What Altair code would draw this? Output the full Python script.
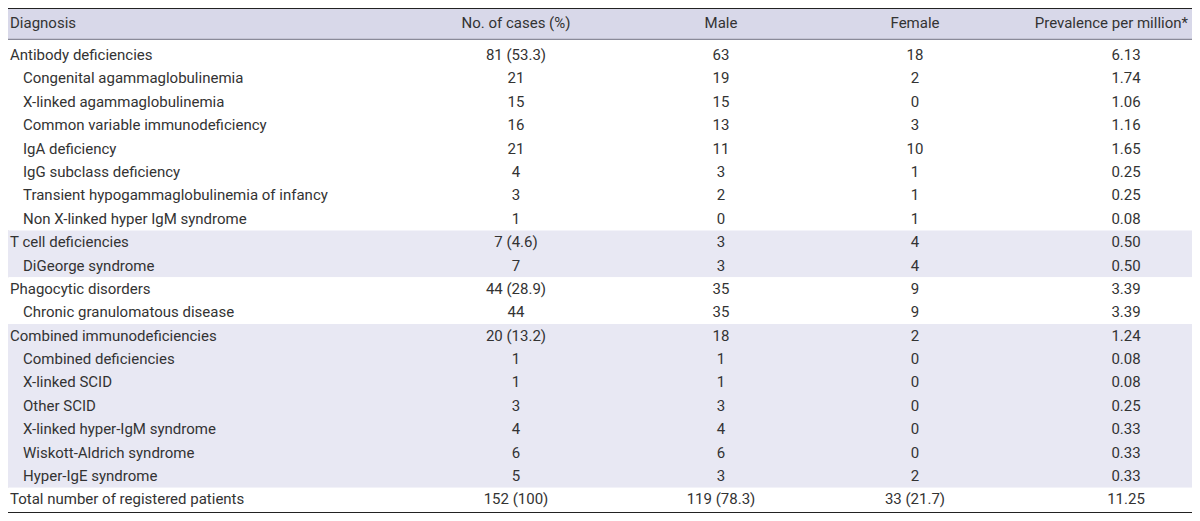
import altair as alt
import pandas as pd

# ---- data ----
diagnosis = [
    "Antibody deficiencies", "Congenital agammaglobulinemia", "X-linked agammaglobulinemia",
    "Common variable immunodeficiency", "IgA deficiency", "IgG subclass deficiency",
    "Transient hypogammaglobulinemia of infancy", "Non X-linked hyper IgM syndrome",
    "T cell deficiencies", "DiGeorge syndrome",
    "Phagocytic disorders", "Chronic granulomatous disease",
    "Combined immunodeficiencies", "Combined deficiencies", "X-linked SCID", "Other SCID",
    "X-linked hyper-IgM syndrome", "Wiskott-Aldrich syndrome", "Hyper-IgE syndrome",
    "Total number of registered patients",
]
level = [0, 1, 1, 1, 1, 1, 1, 1, 0, 1, 0, 1, 0, 1, 1, 1, 1, 1, 1, 0]
cases = ["81 (53.3)", "21", "15", "16", "21", "4", "3", "1", "7 (4.6)", "7", "44 (28.9)", "44",
         "20 (13.2)", "1", "1", "3", "4", "6", "5", "152 (100)"]
male = ["63", "19", "15", "13", "11", "3", "2", "0", "3", "3", "35", "35", "18", "1", "1", "3",
        "4", "6", "3", "119 (78.3)"]
female = ["18", "2", "0", "3", "10", "1", "1", "1", "4", "4", "9", "9", "2", "0", "0", "0", "0",
          "0", "2", "33 (21.7)"]
prevalence = ["6.13", "1.74", "1.06", "1.16", "1.65", "0.25", "0.25", "0.08", "0.50", "0.50",
              "3.39", "3.39", "1.24", "0.08", "0.08", "0.25", "0.33", "0.33", "0.33", "11.25"]
headers = ["Diagnosis", "No. of cases (%)", "Male", "Female", "Prevalence per million*"]
# section groups: (first row, last row, shaded)
sections = [(0, 7, False), (8, 9, True), (10, 11, False), (12, 18, True), (19, 19, False)]

# ---- layout ----
W, H = 1184, 505
TOP, HEAD_BOT, BOTTOM = -2.01, -0.67, 19.58
HEAD_ROW = -1.38
FONT = "Roboto"
FS = 15
TXT = "#333333"
HEAD_BG = "#d8d8e9"
BAND_BG = "#e8e8f3"
col_x = {"cases": 508, "male": 713, "female": 907, "prev": 1118}
head_x = [2, 508, 713, 907, 1180]
head_align = ["left", "center", "center", "center", "right"]

rows = pd.DataFrame({
    "row": list(range(len(diagnosis))),
    "diag": diagnosis, "level": level, "cases": cases, "male": male,
    "female": female, "prev": prevalence,
})
band_df = pd.DataFrame(
    [{"y0": TOP, "y1": HEAD_BOT, "fill": HEAD_BG}]
    + [{"y0": (a - 0.5) if a > 0 else HEAD_BOT, "y1": (b + 0.5) if b < 19 else BOTTOM,
        "fill": BAND_BG if s else "#ffffff"} for a, b, s in sections]
)
line_df = pd.DataFrame({"y": [TOP, HEAD_BOT, BOTTOM],
                        "c": ["#222222", "#8a8a99", "#222222"],
                        "w": [2.0, 1.2, 2.0]})
head_df = pd.DataFrame({"label": headers, "i": list(range(5)), "row": [HEAD_ROW] * 5})

yscale = alt.Scale(domain=[TOP, BOTTOM], reverse=True, nice=False, zero=False)
Y = lambda f: alt.Y(f"{f}:Q", scale=yscale, axis=None)

bands = alt.Chart(band_df).mark_rect().encode(
    x=alt.value(0), x2=alt.value(W), y=Y("y0"), y2="y1",
    color=alt.Color("fill:N", scale=None),
)
lines = alt.Chart(line_df).mark_rule().encode(
    x=alt.value(0), x2=alt.value(W), y=Y("y"),
    color=alt.Color("c:N", scale=None),
    strokeWidth=alt.StrokeWidth("w:Q", scale=None),
)

layers = [bands, lines]
for i, lab in enumerate(headers):
    layers.append(
        alt.Chart(head_df).transform_filter(f"datum.i == {i}").mark_text(
            align=head_align[i], baseline="middle",
            font=FONT, fontSize=FS, color=TXT,
        ).encode(x=alt.value(head_x[i]), y=Y("row"), text="label:N")
    )
for lv, xx in [(0, 2), (1, 15)]:
    layers.append(
        alt.Chart(rows).transform_filter(f"datum.level == {lv}").mark_text(
            align="left", baseline="middle", font=FONT, fontSize=FS, color=TXT,
        ).encode(x=alt.value(xx), y=Y("row"), text="diag:N")
    )
for f, xx in col_x.items():
    layers.append(
        alt.Chart(rows).mark_text(
            align="center", baseline="middle", font=FONT, fontSize=FS, color=TXT,
        ).encode(x=alt.value(xx), y=Y("row"), text=f"{f}:N")
    )

chart = alt.layer(*layers).properties(
    width=W, height=H, padding=0, autosize=alt.AutoSizeParams(type="none"),
).configure_view(stroke=None).configure(background="white")

chart.save("out.html", embed_options={"renderer": "svg", "actions": False})
